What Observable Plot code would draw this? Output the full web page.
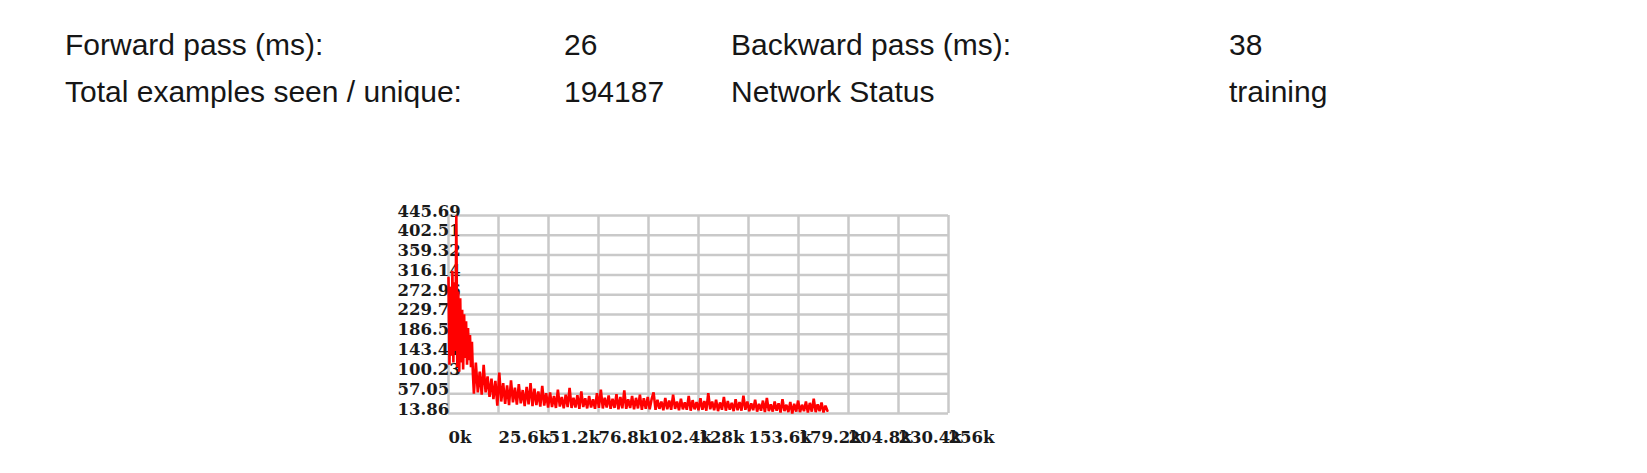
<!DOCTYPE html>
<html>
<head>
<meta charset="utf-8">
<script src="https://cdn.jsdelivr.net/npm/d3@7"></script>
<script src="https://cdn.jsdelivr.net/npm/@observablehq/plot@0.6"></script>
<style>
  html, body { margin: 0; padding: 0; background: #fff; }
  body { width: 1647px; height: 473px; position: relative; overflow: hidden; }
  .cell { position: absolute; font-family: "Liberation Sans", Arial, sans-serif; font-size: 30px; line-height: 30px; color: #161616; white-space: nowrap; }
  #chart { position: absolute; left: 0; top: 150px; }
</style>
</head>
<body>
<div id="stats"></div>
<div id="chart"></div>
<script>
// ---- header stats ----
const statLabels = ["Forward pass (ms):", "Backward pass (ms):", "Total examples seen / unique:", "Network Status"];
const statValues = ["26", "38", "194187", "training"];

// ---- chart ticks ----
const xTicks = [0, 25600, 51200, 76800, 102400, 128000, 153600, 179200, 204800, 230400, 256000];
const xTickLabels = ["0k", "25.6k", "51.2k", "76.8k", "102.4k", "128k", "153.6k", "179.2k", "204.8k", "230.4k", "256k"];
const yTicks = [13.86, 57.05, 100.23, 143.41, 186.59, 229.78, 272.96, 316.14, 359.32, 402.51, 445.69];
const yTickLabels = ["13.86", "57.05", "100.23", "143.41", "186.59", "229.78", "272.96", "316.14", "359.32", "402.51", "445.69"];

// ---- loss series: early part (one value per 500 examples, 0 .. 12.5k) ----
const earlyStep = 500;
const earlyValues = [
  310, 120, 290, 140, 325, 125, 300, 150, 445.69, 115,
  280, 105, 265, 125, 240, 110, 230, 135, 215, 120,
  200, 130, 185, 115, 170, 100
];
// ---- loss series: rest (one value per 1000 examples, 13k .. 194k) ----
const laterStart = 13000;
const laterStep = 1000;
const laterValues = [
  57, 125, 60, 105, 55, 120, 60,
  95, 50, 90, 45, 85, 31, 103, 40, 80, 35,
  75, 32, 86, 38, 70, 33, 78, 36, 65, 30,
  72, 34, 80, 30, 68, 32, 62, 29, 74, 31,
  58, 27, 60, 28, 52, 26, 66, 29, 50, 25,
  55, 28, 70, 26, 48, 27, 54, 24, 62, 28,
  47, 25, 52, 27, 45, 24, 58, 26, 66, 25,
  48, 27, 53, 24, 46, 26, 56, 23, 50, 25,
  64, 24, 45, 26, 52, 23, 48, 25, 55, 22,
  47, 24, 50, 23, 45, 60, 22, 44, 24, 40,
  21, 48, 23, 42, 22, 55, 24, 40, 21, 46,
  23, 38, 22, 52, 20, 43, 23, 39, 21, 47,
  22, 41, 20, 58, 23, 40, 21, 44, 19, 38,
  22, 50, 20, 41, 22, 37, 19, 45, 21, 39,
  20, 53, 22, 40, 19, 36, 21, 44, 18, 35,
  20, 42, 17, 48, 19, 34, 18, 40, 20, 36,
  16, 45, 19, 33, 17, 39, 13.86, 35, 18, 42,
  17, 33, 19, 40, 16, 37, 18, 46, 17, 34,
  19, 38, 16, 31, 20
];
const series = [
  ...earlyValues.map((v, i) => ({x: i * earlyStep, y: v})),
  ...laterValues.map((v, i) => ({x: laterStart + i * laterStep, y: v}))
];

// header layout
const stats = document.getElementById("stats");
const cols = [65, 564, 731, 1229];
const rowTops = [30, 77];
[0, 1].forEach(r => {
  [0, 1].forEach(c => {
    const idx = r * 2 + c;
    const l = document.createElement("div");
    l.className = "cell";
    l.style.left = cols[c * 2] + "px";
    l.style.top = rowTops[r] + "px";
    l.textContent = statLabels[idx];
    stats.appendChild(l);
    const v = document.createElement("div");
    v.className = "cell";
    v.style.left = cols[c * 2 + 1] + "px";
    v.style.top = rowTops[r] + "px";
    v.textContent = statValues[idx];
    stats.appendChild(v);
  });
});

const labelFont = {fontFamily: "DejaVu Serif", fontSize: 16.5, fontWeight: "bold", fill: "#1a1a1a"};

const chart = Plot.plot({
  width: 1647,
  height: 323,
  marginLeft: 448,
  marginRight: 699,
  marginTop: 65,
  marginBottom: 60,
  style: {background: "transparent", overflow: "visible"},
  x: {domain: [0, 256000], axis: null},
  y: {domain: [13.86, 445.69], axis: null},
  marks: [
    Plot.ruleY(yTicks, {y: d => d, stroke: "#c9c9c9", strokeWidth: 2.5}),
    Plot.ruleX(xTicks, {x: d => d, stroke: "#c9c9c9", strokeWidth: 2.5}),
    Plot.text(yTicks, {x: 0, y: d => d, text: (d, i) => yTickLabels[i], dx: -51, dy: 1, textAnchor: "start", lineAnchor: "bottom", ...labelFont}),
    Plot.text(xTicks, {x: d => d, y: 13.86, text: (d, i) => xTickLabels[i], dy: 29, textAnchor: "start", lineAnchor: "bottom", ...labelFont}),
    Plot.line(series, {x: "x", y: "y", stroke: "#ff0000", strokeWidth: 2.6, strokeLinejoin: "miter"})
  ]
});
document.getElementById("chart").appendChild(chart);
</script>
</body>
</html>
